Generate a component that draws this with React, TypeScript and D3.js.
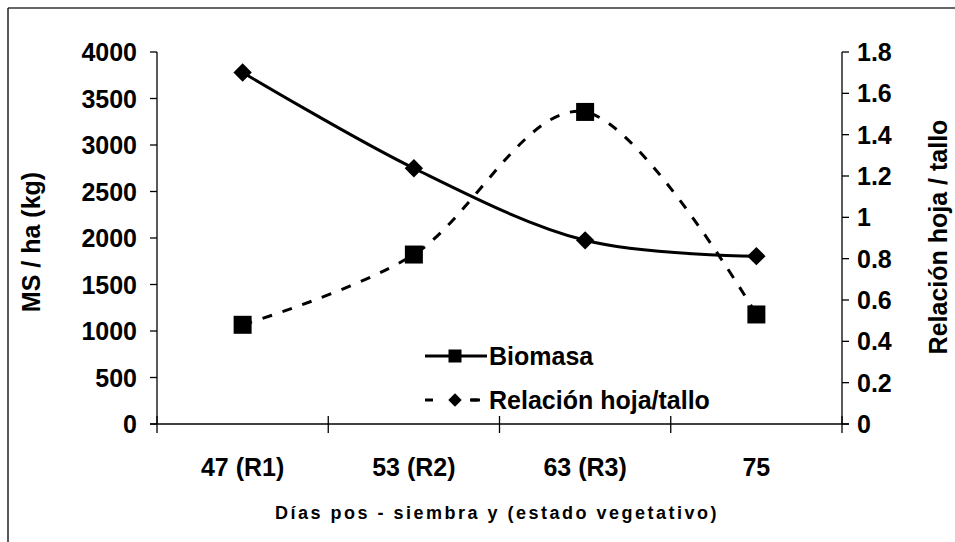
import * as React from "react";
import * as d3 from "d3";

const categorias = ["47 (R1)", "53 (R2)", "63 (R3)", "75"];
// solid line, read on the left axis (kg)
const biomasa = [3780, 2750, 1975, 1805];
// dashed line, read on the right axis
const relacion = [0.48, 0.82, 1.51, 0.53];
const ticksIzq = [0, 500, 1000, 1500, 2000, 2500, 3000, 3500, 4000];
const ticksDer = [0, 0.2, 0.4, 0.6, 0.8, 1, 1.2, 1.4, 1.6, 1.8];

const FONT = "'Liberation Sans', Arial, sans-serif";

export default function App() {
  const width = 955;
  const height = 542;
  const left = 157;
  const right = 842;
  const top = 52;
  const bottom = 424;

  const x = d3.scaleBand().domain(categorias).range([left, right]).padding(0);
  const yL = d3.scaleLinear().domain([0, 4000]).range([bottom, top]);
  const yR = d3.scaleLinear().domain([0, 1.8]).range([bottom, top]);
  const cx = (c: string) => (x(c) as number) + x.bandwidth() / 2;

  const curve = d3.curveCardinal.tension(0);
  const lineSolid = d3
    .line<number>()
    .x((_, i) => cx(categorias[i]))
    .y((d) => yL(d))
    .curve(curve);
  const lineDash = d3
    .line<number>()
    .x((_, i) => cx(categorias[i]))
    .y((d) => yR(d))
    .curve(curve);

  const square = d3.symbol(d3.symbolSquare, 18 * 18)();
  const diamond = d3.symbol(d3.symbolSquare, 13 * 13)();
  const squareSmall = d3.symbol(d3.symbolSquare, 13 * 13)();
  const diamondSmall = d3.symbol(d3.symbolSquare, 9.5 * 9.5)();

  const bounds = categorias.map((c) => x(c) as number).concat([right]);

  return (
    <svg
      width={width}
      height={height}
      style={{ position: "absolute", left: 0, top: 0, background: "#fff" }}
      fontFamily={FONT}
      fontWeight="bold"
    >
      {/* frame */}
      <line x1={8} y1={8} x2={width} y2={8} stroke="#333" strokeWidth={1.5} />
      <line x1={8} y1={8} x2={8} y2={height} stroke="#222" strokeWidth={1.5} />

      {/* left axis */}
      <line x1={left} y1={top} x2={left} y2={bottom} stroke="#000" strokeWidth={1.3} />
      {ticksIzq.map((t) => (
        <g key={"l" + t}>
          <line x1={left - 7} x2={left} y1={yL(t)} y2={yL(t)} stroke="#000" strokeWidth={1.3} />
          <text x={left - 20} y={yL(t)} dy="0.36em" textAnchor="end" fontSize={25}>
            {t}
          </text>
        </g>
      ))}

      {/* right axis */}
      <line x1={right} y1={top} x2={right} y2={bottom} stroke="#000" strokeWidth={1.3} />
      {ticksDer.map((t) => (
        <g key={"r" + t}>
          <line x1={right} x2={right + 7} y1={yR(t)} y2={yR(t)} stroke="#000" strokeWidth={1.3} />
          <text x={right + 15} y={yR(t)} dy="0.36em" textAnchor="start" fontSize={25}>
            {d3.format("~g")(t)}
          </text>
        </g>
      ))}

      {/* x axis */}
      <line x1={left - 7} x2={right + 7} y1={bottom} y2={bottom} stroke="#000" strokeWidth={1.3} />
      {bounds.map((b, i) => (
        <line key={"xt" + i} x1={b} x2={b} y1={bottom - 8} y2={bottom + 9} stroke="#000" strokeWidth={1.3} />
      ))}
      {categorias.map((c) => (
        <text key={c} x={cx(c)} y={476} textAnchor="middle" fontSize={25}>
          {c}
        </text>
      ))}

      {/* axis titles */}
      <text x={497} y={519} textAnchor="middle" fontSize={18} letterSpacing={2.5}>
        Días pos - siembra y (estado vegetativo)
      </text>
      <text transform="translate(40,242) rotate(-90)" textAnchor="middle" fontSize={25}>
        MS / ha (kg)
      </text>
      <text transform="translate(947,237) rotate(-90)" textAnchor="middle" fontSize={25}>
        Relación hoja / tallo
      </text>

      {/* series */}
      <path d={lineDash(relacion) as string} fill="none" stroke="#000" strokeWidth={3} strokeDasharray="10,11" />
      <path d={lineSolid(biomasa) as string} fill="none" stroke="#000" strokeWidth={3} />
      {relacion.map((v, i) => (
        <path key={"s" + i} d={square as string} transform={`translate(${cx(categorias[i])},${yR(v)})`} fill="#000" />
      ))}
      {biomasa.map((v, i) => (
        <path
          key={"d" + i}
          d={diamond as string}
          transform={`translate(${cx(categorias[i])},${yL(v)}) rotate(45)`}
          fill="#000"
        />
      ))}

      {/* legend */}
      <g>
        <line x1={425} x2={487} y1={356} y2={356} stroke="#000" strokeWidth={3} />
        <path d={squareSmall as string} transform="translate(455,356)" fill="#000" />
        <text x={489} y={356} dy="0.36em" fontSize={25}>
          Biomasa
        </text>
        <line x1={425} x2={483} y1={400} y2={400} stroke="#000" strokeWidth={3} strokeDasharray="8,37" />
        <line x1={471} x2={480} y1={400} y2={400} stroke="#000" strokeWidth={3} />
        <path d={diamondSmall as string} transform="translate(455,400) rotate(45)" fill="#000" />
        <text x={489} y={400} dy="0.36em" fontSize={25}>
          Relación hoja/tallo
        </text>
      </g>
    </svg>
  );
}
